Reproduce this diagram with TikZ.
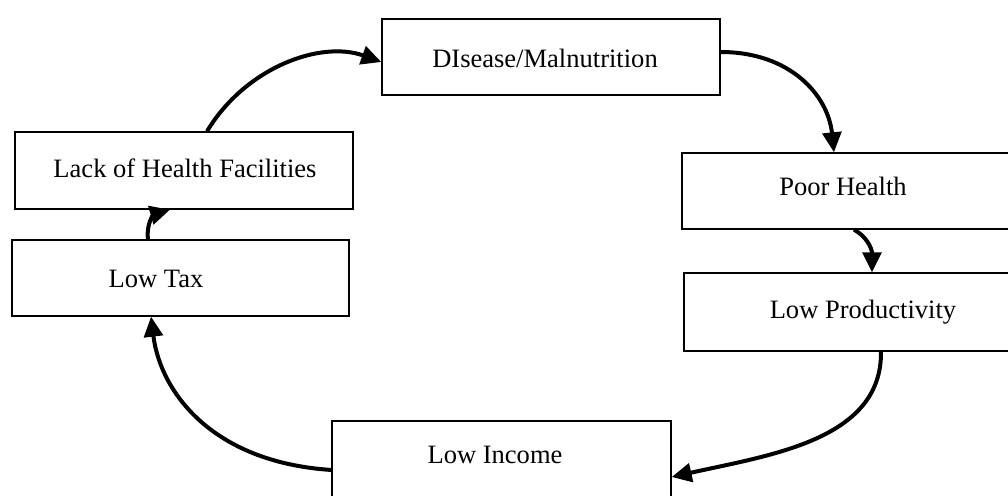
\documentclass[tikz,border=0pt]{standalone}
\usepackage{fontspec}
\setmainfont{Liberation Serif}
\usetikzlibrary{arrows.meta,calc}
\tikzset{
  box/.style={draw=black, line width=1pt, rectangle, inner sep=0pt},
  lbl/.style={anchor=base, inner sep=0pt, font=\fontsize{19.9}{24}\selectfont},
  conn/.style={line width=3pt, -{Triangle[length=15pt,width=14pt]}},
}
\begin{document}
\begin{tikzpicture}[x=0.75pt,y=-0.75pt]
\useasboundingbox (0,0) rectangle (1008,496);
\fill[white] (0,0) rectangle (1008,496);
\clip (0,0) rectangle (1008,496);
% boxes
\node[box, minimum width=253.5pt, minimum height=57pt]   (dis)  at (551,57)    {};
\node[box, minimum width=253.5pt, minimum height=57.75pt] (lack) at (184,170.5) {};
\node[box, minimum width=252.75pt, minimum height=57pt]  (tax)  at (180.5,278) {};
\node[box, minimum width=268.5pt, minimum height=57pt]   (poor) at (861,191)   {};
\node[box, minimum width=267pt, minimum height=58.5pt]   (prod) at (862,312)   {};
\node[box, minimum width=254.25pt, minimum height=59.25pt] (inc) at (501.5,460.5) {};
% texts
\node[lbl] (tdis)  at (545,67)  {DIsease/Malnutrition};
\node[lbl] (tlack) at (185,177) {Lack of Health Facilities};
\node[lbl] (ttax)  at (156,287) {Low Tax};
\node[lbl] (tpoor) at (843,195) {Poor Health};
\node[lbl] (tprod) at (863,318) {Low Productivity};
\node[lbl] (tinc)  at (495,463) {Low Income};
% connectors
\draw[conn] ([xshift=17.25pt]lack.north) .. controls (245,68) and (320,40) .. ([yshift=-3.75pt]dis.west);
\draw[conn] ([yshift=3.75pt]dis.east) .. controls (790,52) and (828,95) .. ([xshift=-20.25pt]poor.north);
\draw[conn] ([xshift=-5.25pt]poor.south) .. controls (866,236) and (872,248) .. ([xshift=7.5pt]prod.north);
\draw[conn] ([xshift=14.25pt]prod.south) .. controls (882,440) and (770,455) .. ([yshift=-12.4pt]inc.east);
\draw[conn] ([yshift=-7.1pt]inc.west) .. controls (210,462) and (160,390) .. ([xshift=-22.1pt]tax.south);
\draw[conn] ([xshift=-24.4pt]tax.north) .. controls (146,222) and (155,214) .. ([xshift=-10.5pt]lack.south);
\end{tikzpicture}
\end{document}
